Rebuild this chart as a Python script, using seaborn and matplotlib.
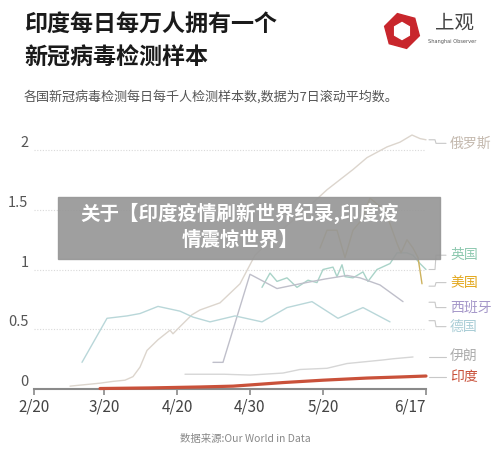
import pandas as pd
import matplotlib.pyplot as plt
import seaborn as sns
from matplotlib.patches import Rectangle, RegularPolygon

# x is a position along the time axis (the reference axis is not linear in dates)
tick_pos = [0, 70, 143, 216, 289, 392]
tick_labels = ['2/20', '3/20', '4/20', '4/30', '5/20', '6/17']

russia_t = [36, 66, 79, 91, 99, 106, 113, 124, 136, 139, 146, 158, 166, 186, 206, 221, 246, 271, 293, 319, 333, 353, 366, 378, 386, 392]
russia_v = [0.02, 0.045, 0.06, 0.07, 0.1, 0.18, 0.32, 0.41, 0.49, 0.46, 0.52, 0.62, 0.66, 0.72, 0.88, 1.12, 1.32, 1.5, 1.67, 1.84, 1.94, 2.03, 2.07, 2.13, 2.1, 2.09]

uk_t = [228, 236, 243, 253, 263, 274, 283, 289, 299, 303, 308, 311, 319, 329, 334, 343, 356, 363, 373, 379, 386, 392]
uk_v = [0.85, 0.97, 0.9, 0.93, 0.85, 0.91, 0.89, 1.0, 1.02, 0.94, 1.04, 0.94, 0.93, 0.98, 0.9, 1.0, 1.05, 1.14, 1.14, 1.12, 1.05, 1.0]

us_t = [286, 293, 303, 311, 319, 328, 336, 343, 351, 363, 367, 373, 379, 384, 388]
us_v = [1.18, 1.33, 1.33, 1.1, 1.33, 1.42, 1.6, 1.55, 1.5, 1.22, 1.14, 1.25, 1.18, 1.1, 0.88]

spain_t = [179, 189, 216, 243, 266, 291, 313, 326, 346, 369]
spain_v = [0.22, 0.22, 0.96, 0.84, 0.88, 0.92, 0.95, 0.93, 0.87, 0.73]

germany_t = [48, 73, 93, 106, 124, 146, 159, 176, 201, 228, 253, 278, 304, 329, 356]
germany_v = [0.22, 0.59, 0.61, 0.63, 0.69, 0.65, 0.6, 0.56, 0.61, 0.56, 0.68, 0.73, 0.59, 0.68, 0.56]

iran_t = [151, 190, 216, 249, 266, 293, 313, 349, 359, 379]
iran_v = [0.12, 0.12, 0.113, 0.13, 0.16, 0.17, 0.21, 0.24, 0.25, 0.265]

india_t = [66, 116, 166, 199, 216, 249, 289, 333, 366, 392]
india_v = [0.0, 0.005, 0.013, 0.02, 0.03, 0.05, 0.07, 0.088, 0.097, 0.105]

names = ['俄罗斯', '英国', '美国', '西班牙', '德国', '伊朗', '印度']
label_y = [2.06, 1.12, 0.89, 0.68, 0.52, 0.265, 0.097]
end_y = [2.09, 1.0, 0.86, 0.725, 0.57, 0.265, 0.097]
line_colors = ['#dcd5cd', '#a9d3c8', '#cdb25e', '#bfbfca', '#b9d7d9', '#d6d6d6', '#c9513a']
label_colors = ['#c4b9ae', '#8ec9b0', '#e3a81e', '#a597c9', '#a9cdd6', '#adadad', '#c9513a']

sns.set_theme(style='white')
plt.rcParams['font.family'] = ['Noto Sans CJK SC', 'DejaVu Sans']

fig = plt.figure(figsize=(5, 4.58), dpi=100)
ax = fig.add_axes([0.068, 0.1517, 0.784, 0.5717])

data = [(russia_t, russia_v), (uk_t, uk_v), (us_t, us_v), (spain_t, spain_v),
        (germany_t, germany_v), (iran_t, iran_v), (india_t, india_v)]
for (t, v), name, c in zip(data, names, line_colors):
    df = pd.DataFrame({'t': t, 'v': v})
    lw = 2.3 if name == '印度' else 1.0
    sns.lineplot(data=df, x='t', y='v', ax=ax, color=c, lw=lw,
                 estimator=None, sort=False, zorder=4 if name == '印度' else 3)
for ln in ax.lines:
    ln.set_clip_on(False)

# label connectors
for name, ye, yl, c in zip(names, end_y, label_y, label_colors):
    ax.plot([395, 401, 402, 412], [ye, ye, yl, yl], color='#c8c8c8', lw=0.8, clip_on=False)
    ax.text(416, yl, name, color=c, fontsize=10, va='center', ha='left', clip_on=False)

ax.set_xlim(0, 392)
ax.set_ylim(0, 2.2)
ax.set_xlabel('')
ax.set_ylabel('')
ax.set_xticks(tick_pos)
ax.set_xticklabels(tick_labels)
ax.xaxis.get_ticklabels()[-1].set_ha('right')
ax.set_yticks([0, 0.5, 1, 1.5, 2])
ax.set_yticklabels(['0', '0.5', '1', '1.5', '2'])
for lbl in ax.get_yticklabels():
    lbl.set_va('bottom')
for y in [0.5, 1, 1.5, 2]:
    ax.axhline(y, color='#d9d9d9', lw=0.8, ls=(0, (1, 1.5)), zorder=1)
for s in ['top', 'right', 'left']:
    ax.spines[s].set_visible(False)
ax.spines['bottom'].set_color('#8a8a8a')
ax.spines['bottom'].set_linewidth(1.5)
ax.tick_params(axis='x', length=4, width=1.2, color='#8a8a8a', labelsize=11,
               labelcolor='#444444', pad=3, bottom=True)
ax.tick_params(axis='y', length=0, labelsize=10.5, labelcolor='#555555', pad=4)
ax.set_facecolor('white')

# titles
fig.text(24 / 500, 1 - 24 / 458, '印度每日每万人拥有一个', fontsize=16.6, weight='bold',
         color='#1a1a1a', va='center')
fig.text(24 / 500, 1 - 58 / 458, '新冠病毒检测样本', fontsize=16.6, weight='bold',
         color='#1a1a1a', va='center')
fig.text(24 / 500, 1 - 97 / 458, '各国新冠病毒检测每日每千人检测样本数,数据为7日滚动平均数。',
         fontsize=9.4, color='#555555', va='center')
fig.text(245 / 500, 1 - 439 / 458, '数据来源:Our World in Data', fontsize=7.5,
         color='#888888', va='center', ha='center')

# logo
fig.add_artist(RegularPolygon((4.02, 4.27), 6, radius=0.18, orientation=0.26,
                              transform=fig.dpi_scale_trans, color='#c8262c'))
fig.add_artist(RegularPolygon((4.02, 4.27), 6, radius=0.085, orientation=0.0,
                              transform=fig.dpi_scale_trans, color='white'))
fig.text(455 / 500, 1 - 23 / 458, '上观', fontsize=14, color='#444444', va='center', ha='center')
fig.text(452 / 500, 1 - 42 / 458, 'Shanghai Observer', fontsize=3.6, color='#555555',
         va='center', ha='center', family='DejaVu Sans')

# overlay banner
fig.add_artist(Rectangle((58 / 500, 1 - 259 / 458), (440 - 58) / 500, 62 / 458,
                         transform=fig.transFigure, color='#979797', alpha=0.92, zorder=10))
fig.text(240 / 500, 1 - 213 / 458, '关于【印度疫情刷新世界纪录,印度疫', fontsize=14,
         weight='bold', color='white', va='center', ha='center', zorder=11)
fig.text(240 / 500, 1 - 240 / 458, '情震惊世界】', fontsize=14,
         weight='bold', color='white', va='center', ha='center', zorder=11)

fig.savefig('out.png', dpi=100, facecolor='white')
